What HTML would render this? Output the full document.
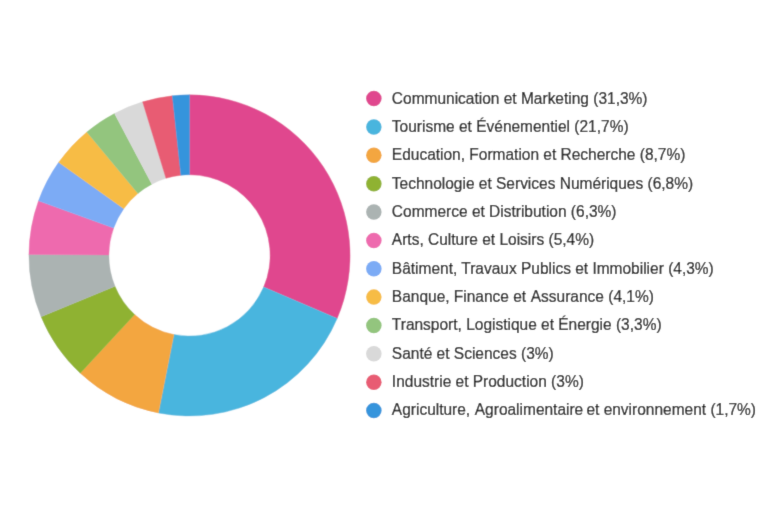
<!DOCTYPE html>
<html lang="fr"><head><meta charset="utf-8"><title>Secteurs</title>
<style>
html,body{margin:0;padding:0;background:#fff;}
body{width:768px;height:512px;overflow:hidden;}
svg{display:block;}
text{font-family:"Liberation Sans",Arial,Helvetica,sans-serif;font-size:16.3px;fill:#1c1c1c;stroke:#1c1c1c;stroke-width:0.25px;}
</style></head><body>
<svg width="768" height="512" viewBox="0 0 768 512">
<defs><filter id="soft" x="0" y="0" width="768" height="512" filterUnits="userSpaceOnUse"><feConvolveMatrix order="3" kernelMatrix="0.0113 0.0838 0.0113 0.0838 0.6193 0.0838 0.0113 0.0838 0.0113" edgeMode="duplicate" preserveAlpha="false"/></filter></defs>
<g filter="url(#soft)">
<rect width="768" height="512" fill="#ffffff"/>
<g>
<path d="M189.50 94.85A160.6 160.6 0 0 1 337.19 318.54L263.62 287.11A80.6 80.6 0 0 0 189.50 174.85Z" fill="#e0478e" stroke="#e0478e" stroke-width="0.4"/>
<path d="M337.19 318.54A160.6 160.6 0 0 1 158.40 413.01L173.89 334.52A80.6 80.6 0 0 0 263.62 287.11Z" fill="#4ab5de" stroke="#4ab5de" stroke-width="0.4"/>
<path d="M158.40 413.01A160.6 160.6 0 0 1 80.25 373.17L134.67 314.53A80.6 80.6 0 0 0 173.89 334.52Z" fill="#f3a63f" stroke="#f3a63f" stroke-width="0.4"/>
<path d="M80.25 373.17A160.6 160.6 0 0 1 41.03 316.67L114.99 286.18A80.6 80.6 0 0 0 134.67 314.53Z" fill="#8fb233" stroke="#8fb233" stroke-width="0.4"/>
<path d="M41.03 316.67A160.6 160.6 0 0 1 28.90 254.44L108.90 254.94A80.6 80.6 0 0 0 114.99 286.18Z" fill="#abb3b2" stroke="#abb3b2" stroke-width="0.4"/>
<path d="M28.90 254.44A160.6 160.6 0 0 1 38.47 200.84L113.70 228.04A80.6 80.6 0 0 0 108.90 254.94Z" fill="#ee6bae" stroke="#ee6bae" stroke-width="0.4"/>
<path d="M38.47 200.84A160.6 160.6 0 0 1 58.63 162.37L123.82 208.74A80.6 80.6 0 0 0 113.70 228.04Z" fill="#7babf5" stroke="#7babf5" stroke-width="0.4"/>
<path d="M58.63 162.37A160.6 160.6 0 0 1 86.79 131.99L137.95 193.49A80.6 80.6 0 0 0 123.82 208.74Z" fill="#f7bc45" stroke="#f7bc45" stroke-width="0.4"/>
<path d="M86.79 131.99A160.6 160.6 0 0 1 114.52 113.43L151.87 184.17A80.6 80.6 0 0 0 137.95 193.49Z" fill="#93c57e" stroke="#93c57e" stroke-width="0.4"/>
<path d="M114.52 113.43A160.6 160.6 0 0 1 142.58 101.86L165.95 178.37A80.6 80.6 0 0 0 151.87 184.17Z" fill="#d9d9d9" stroke="#d9d9d9" stroke-width="0.4"/>
<path d="M142.58 101.86A160.6 160.6 0 0 1 172.31 95.77L180.87 175.31A80.6 80.6 0 0 0 165.95 178.37Z" fill="#e85b73" stroke="#e85b73" stroke-width="0.4"/>
<path d="M172.31 95.77A160.6 160.6 0 0 1 189.50 94.85L189.50 174.85A80.6 80.6 0 0 0 180.87 175.31Z" fill="#3594dc" stroke="#3594dc" stroke-width="0.4"/>
</g>
<g>
<circle cx="373.85" cy="98.60" r="7.75" fill="#e0478e"/>
<circle cx="373.85" cy="126.96" r="7.75" fill="#4ab5de"/>
<circle cx="373.85" cy="155.32" r="7.75" fill="#f3a63f"/>
<circle cx="373.85" cy="183.68" r="7.75" fill="#8fb233"/>
<circle cx="373.85" cy="212.04" r="7.75" fill="#abb3b2"/>
<circle cx="373.85" cy="240.40" r="7.75" fill="#ee6bae"/>
<circle cx="373.85" cy="268.76" r="7.75" fill="#7babf5"/>
<circle cx="373.85" cy="297.12" r="7.75" fill="#f7bc45"/>
<circle cx="373.85" cy="325.48" r="7.75" fill="#93c57e"/>
<circle cx="373.85" cy="353.84" r="7.75" fill="#d9d9d9"/>
<circle cx="373.85" cy="382.20" r="7.75" fill="#e85b73"/>
<circle cx="373.85" cy="410.56" r="7.75" fill="#3594dc"/>
</g>
<g>
<text transform="translate(391.85 103.65) scale(0.951 1)">Communication et Marketing (31,3%)</text>
<text transform="translate(391.85 131.98) scale(0.951 1)">Tourisme et Événementiel (21,7%)</text>
<text transform="translate(391.85 160.31) scale(0.951 1)">Education, Formation et Recherche (8,7%)</text>
<text transform="translate(391.85 188.64) scale(0.951 1)">Technologie et Services Numériques (6,8%)</text>
<text transform="translate(391.85 216.97) scale(0.951 1)">Commerce et Distribution (6,3%)</text>
<text transform="translate(391.85 245.30) scale(0.951 1)">Arts, Culture et Loisirs (5,4%)</text>
<text transform="translate(391.85 273.63) scale(0.951 1)">Bâtiment, Travaux Publics et Immobilier (4,3%)</text>
<text transform="translate(391.85 301.96) scale(0.951 1)">Banque, Finance et <tspan dx="0.3">A</tspan>ssurance (4,1%)</text>
<text transform="translate(391.85 330.29) scale(0.951 1)">Transport, Logistique et Énergie (3,3%)</text>
<text transform="translate(391.85 358.62) scale(0.951 1)">Santé et Sciences (3%)</text>
<text transform="translate(391.85 386.95) scale(0.951 1)">Industrie et Production (3%)</text>
<text transform="translate(391.85 415.28) scale(0.951 1)">Agriculture, <tspan dx="0.3">A</tspan>groalimentaire<tspan dx="-1.2"> </tspan>et environnement (1,7%)</text>
</g>
</g>
</svg>
</body></html>
